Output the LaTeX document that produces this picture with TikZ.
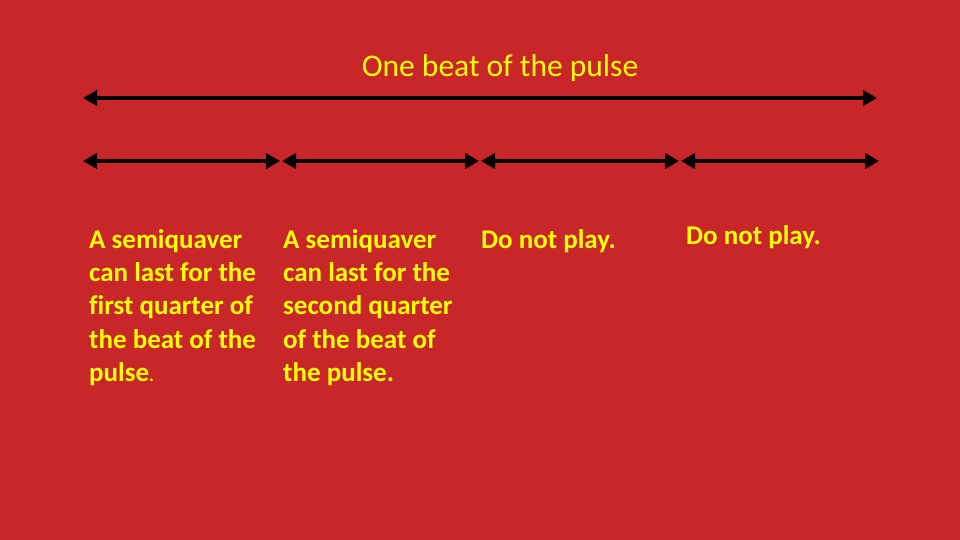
\documentclass[tikz,border=0pt]{standalone}
\usepackage{fontspec}
\setmainfont{Carlito}[Ligatures={TeX,NoCommon}]
\usetikzlibrary{arrows.meta}
\definecolor{bgred}{RGB}{200,38,40}
\definecolor{txtyellow}{RGB}{255,255,0}
\begin{document}
\begin{tikzpicture}[x=1pt,y=-1pt,
  beatarrow/.style={line width=4pt,{Triangle[length=14pt,width=15pt]}-{Triangle[length=14pt,width=15pt]},black},
  bodytext/.style={text=txtyellow,font=\fontsize{27}{33.3}\selectfont\bfseries,align=left,anchor=north west,inner sep=0pt},
  titletext/.style={text=txtyellow,font=\fontsize{31.5}{36}\selectfont,inner sep=0pt}]
\fill[bgred] (0,0) rectangle (960,540);
\useasboundingbox (0,0) rectangle (960,540);
\node[titletext] (title) at (500,68) {One beat of the pulse};
\coordinate (tl) at (83,98);
\coordinate (tr) at (877,98);
\draw[beatarrow] (tl) -- (tr);
\coordinate (a0) at (83,161);
\coordinate (a1) at (280,161);
\coordinate (b0) at (282,161);
\coordinate (b1) at (479,161);
\coordinate (c0) at (481,161);
\coordinate (c1) at (679,161);
\coordinate (d0) at (681,161);
\coordinate (d1) at (879,161);
\draw[beatarrow] (a0) -- (a1);
\draw[beatarrow] (b0) -- (b1);
\draw[beatarrow] (c0) -- (c1);
\draw[beatarrow] (d0) -- (d1);
\node[bodytext] (q1) at (89,229) {A semiquaver\\can last for the\\first quarter of\\the beat of the\\pulse{\fontsize{18}{20}\selectfont.}};
\node[bodytext] (q2) at (283,229) {A semiquaver\\can last for the\\second quarter\\of the beat of\\the pulse.};
\node[bodytext] (q3) at (481,229) {Do not play.};
\node[bodytext] (q4) at (686,225) {Do not play.};
\end{tikzpicture}
\end{document}
